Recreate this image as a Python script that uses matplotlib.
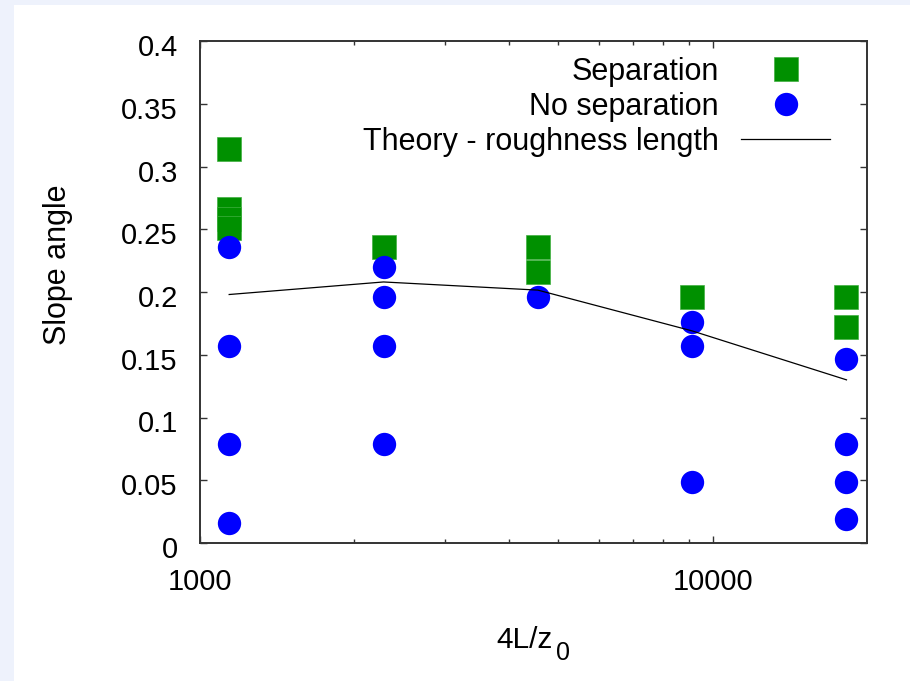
import numpy as np
import matplotlib
matplotlib.use('Agg')
import matplotlib.pyplot as plt
from matplotlib.patches import Rectangle
from matplotlib.ticker import FixedLocator, FixedFormatter, NullFormatter
from matplotlib.transforms import ScaledTranslation

plt.rcParams['font.family'] = ['Liberation Sans', 'DejaVu Sans']

# 4L/z0 positions of the runs
sep_x = [1140, 1140, 1140, 1140, 2280, 4560, 4560, 9120, 18240, 18240]
sep_y = [0.314, 0.266, 0.258, 0.251, 0.236, 0.236, 0.216, 0.196, 0.196, 0.172]

nosep_x = [1140, 1140, 1140, 1140, 2280, 2280, 2280, 2280, 4560,
           9120, 9120, 9120, 18240, 18240, 18240, 18240]
nosep_y = [0.236, 0.157, 0.079, 0.016, 0.220, 0.196, 0.157, 0.079, 0.196,
           0.176, 0.157, 0.049, 0.147, 0.079, 0.049, 0.019]

theory_x = [1140, 2280, 4560, 9120, 18240]
theory_y = [0.198, 0.208, 0.2015, 0.169, 0.130]

y_ticks = [0, 0.05, 0.1, 0.15, 0.2, 0.25, 0.3, 0.35, 0.4]
y_ticklabels = ['0', '0.05', '0.1', '0.15', '0.2', '0.25', '0.3', '0.35', '0.4']
x_ticks = [1000, 10000]
x_ticklabels = ['1000', '10000']
x_minor = [2000, 3000, 4000, 5000, 6000, 7000, 8000, 9000]

fig = plt.figure(figsize=(9.10, 6.81), dpi=100, facecolor='white')
# light frame strip on the left and top
fig.patches.append(Rectangle((0, 0), 14/910, 1, transform=fig.transFigure,
                             facecolor='#eef2fc', edgecolor='none', zorder=-1))
fig.patches.append(Rectangle((0, 1 - 5/681), 1, 5/681, transform=fig.transFigure,
                             facecolor='#eef2fc', edgecolor='none', zorder=-1))

ax = fig.add_axes([200/910, 1 - 543/681, 667/910, 502/681])

ax.plot(sep_x, sep_y, 's', color='#009000', ms=17.3, mew=0.5, mec='#40b040',
        label='Separation', zorder=3)
ax.plot(nosep_x, nosep_y, 'o', color='#0000ff', ms=16.8, mew=0,
        label='No separation', zorder=4)
ax.plot(theory_x, theory_y, '-', color='black', lw=0.9,
        label='Theory - roughness length', zorder=5)

ax.set_xscale('log')
ax.set_xlim(1000, 20000)
ax.set_ylim(0, 0.4)

ax.xaxis.set_major_locator(FixedLocator(x_ticks))
ax.xaxis.set_major_formatter(FixedFormatter(x_ticklabels))
ax.xaxis.set_minor_locator(FixedLocator(x_minor))
ax.xaxis.set_minor_formatter(NullFormatter())
ax.yaxis.set_major_locator(FixedLocator(y_ticks))
ax.yaxis.set_major_formatter(FixedFormatter(y_ticklabels))

for s in ax.spines.values():
    s.set_color('#333333')
    s.set_linewidth(1.4)

ax.tick_params(which='both', direction='in', top=True, right=True,
               color='#333333', width=1.0, labelsize=21)
ax.tick_params(which='major', length=5)
ax.tick_params(which='minor', length=3)
ax.tick_params(axis='y', pad=16)
ax.tick_params(axis='x', pad=18)

ax.set_ylabel('Slope angle', fontsize=22)
ax.yaxis.set_label_coords(-0.19, 0.554)

# x label with the detached subscript, gnuplot style
ax.text(0.486, -0.193, '4L/z', transform=ax.transAxes, fontsize=21.5,
        ha='center', va='center')
ax.text(0.544, -0.219, '0', transform=ax.transAxes, fontsize=18,
        ha='center', va='center')

ax.legend(loc='upper right', bbox_to_anchor=(0.963, 0.993), frameon=False,
          markerfirst=False, fontsize=22, handlelength=2.9,
          handletextpad=0.75, labelspacing=0.17, borderaxespad=0.2,
          borderpad=0.2)

# gnuplot puts the y tick labels a bit below their ticks
shift = ScaledTranslation(0, -4/100, fig.dpi_scale_trans)
for lbl in ax.get_yticklabels():
    lbl.set_transform(lbl.get_transform() + shift)

fig.savefig('out.png', dpi=100, facecolor=fig.get_facecolor())
